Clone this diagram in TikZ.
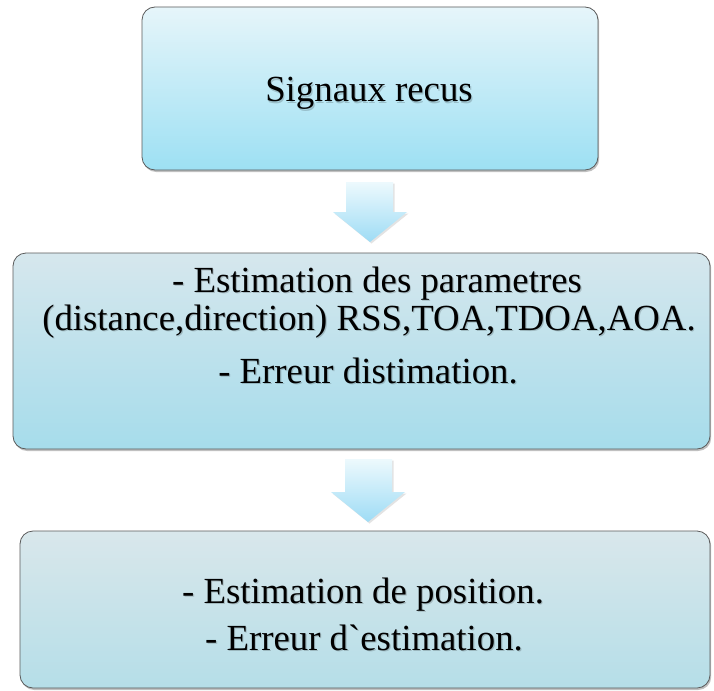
\documentclass[tikz,border=0pt]{standalone}
\usepackage{fontspec}
\setmainfont{Liberation Serif}
\newfontfamily\rawserif[Ligatures=ResetAll]{Liberation Serif}
\usetikzlibrary{shadows}
\definecolor{bAtop}{HTML}{E6F5FA}
\definecolor{bAbot}{HTML}{9DE0F3}
\definecolor{bBtop}{HTML}{D6E7ED}
\definecolor{bBbot}{HTML}{A6DCEB}
\definecolor{bCtop}{HTML}{D9E7EB}
\definecolor{bCbot}{HTML}{B5DEE8}
\definecolor{arTop}{HTML}{EDF9FD}
\definecolor{arBot}{HTML}{9EDCF5}
\definecolor{edge}{HTML}{5A5A5A}
\begin{document}
\begin{tikzpicture}[x=1pt,y=-1pt,
  stagebox/.style={draw=edge, line width=0.8pt, rounded corners=13pt,
    inner sep=0pt, outer sep=0pt, anchor=north west,
    drop shadow={shadow xshift=1.2pt, shadow yshift=-2pt, opacity=0.35, fill=black!70}},
  blockarrow/.style={top color=arTop, bottom color=arBot, draw=none,
    drop shadow={shadow xshift=1.5pt, shadow yshift=-1.5pt, opacity=0.18, fill=black!60}},
  txt/.style={font=\fontsize{36.8}{40}\selectfont, anchor=base, inner sep=0pt},
  txtshadow/.style={txt, text=black, opacity=0.18, xshift=1.2pt, yshift=-1.6pt}]
\useasboundingbox (0,0) rectangle (714,690);
\fill[white] (0,0) rectangle (714,690);
% boxes
\node[stagebox, top color=bAtop, bottom color=bAbot,
  minimum width=456pt, minimum height=163pt] (b1) at (142,7) {};
\node[stagebox, top color=bBtop, bottom color=bBbot,
  minimum width=697pt, minimum height=196pt] (b2) at (13,253) {};
\node[stagebox, top color=bCtop, bottom color=bCbot,
  minimum width=690pt, minimum height=157pt] (b3) at (20,531) {};
% block arrows
\path[blockarrow] (346,182) -- (393,182) -- (393,212) -- (407,212) -- (370,242)
  -- (333,212) -- (346,212) -- cycle;
\path[blockarrow] (345,459) -- (392,459) -- (392,492) -- (405,492) -- (368,522)
  -- (331,492) -- (345,492) -- cycle;
% text shadows
\node[txtshadow] (s1) at (369,102) {Signaux recus};
\node[txtshadow] (s2) at (377,292) {- Estimation des parametres};
\node[txtshadow] (s3) at (369,330) {(distance,direction) RSS,TOA,TDOA,AOA.};
\node[txtshadow] (s4) at (368,383) {- Erreur distimation.};
\node[txtshadow] (s5) at (363,603) {- Estimation de position.};
\node[txtshadow] (s6) at (364,650) {- Erreur d{\rawserif`}estimation.};
% texts
\node[txt] (t1) at (369,102) {Signaux recus};
\node[txt] (t2) at (377,292) {- Estimation des parametres};
\node[txt] (t3) at (369,330) {(distance,direction) RSS,TOA,TDOA,AOA.};
\node[txt] (t4) at (368,383) {- Erreur distimation.};
\node[txt] (t5) at (363,603) {- Estimation de position.};
\node[txt] (t6) at (364,650) {- Erreur d{\rawserif`}estimation.};
\end{tikzpicture}
\end{document}
